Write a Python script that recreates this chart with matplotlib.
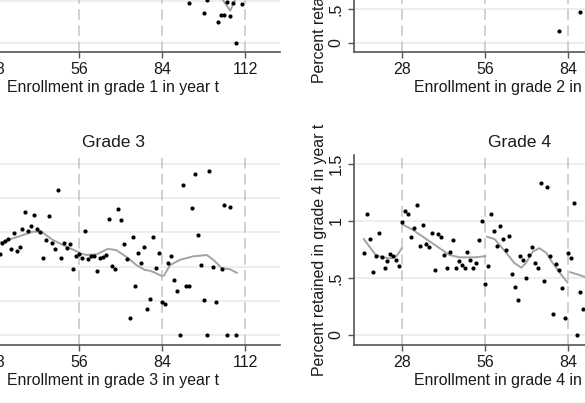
import numpy as np
import matplotlib
matplotlib.use("Agg")
import matplotlib.pyplot as plt

plt.rcParams['font.family'] = ['Liberation Sans', 'DejaVu Sans']

# cutoffs marked with dashed lines
cutoffs = [28, 56, 84, 112]

# Grade 1 (only the lower right corner is visible)
g1_x = [93.1, 99.1, 98.05, 103.0, 103.9, 104.9, 106.0, 107.0, 107.8, 109.05, 111.0]
g1_y = [0.47, 0.51, 0.35, 0.25, 0.33, 0.33, 0.48, 0.32, 0.47, 0.0, 0.46]
g1_fit = [([102.9, 104.5, 107.0, 108.6, 110.3], [0.63, 0.51, 0.38, 0.51, 0.63])]

# Grade 2 (only the lower left corner is visible)
g2_x = [80.9, 87.76]
g2_y = [0.18, 0.46]
g2_fit = []

# Grade 3
g3_x = [29.35, 30.26, 31.04, 32.05, 33.06, 34.07, 35.08, 36.1, 37.0, 38.0,
        39.0, 40.0, 41.05, 42.07, 43.08, 44.09, 45.1, 45.98, 46.99, 48.0,
        49.15, 50.03, 51.17, 52.05, 53.06, 54.07, 55.09, 56.0, 56.99, 58.0,
        59.03, 60.04, 61.06, 62.07, 63.08, 64.09, 65.1, 66.1, 67.1, 68.1,
        69.2, 70.2, 71.1, 72.1, 73.1, 74.1, 75.0, 76.0, 77.0, 77.9,
        79.0, 80.0, 81.0, 82.1, 83.1, 84.0, 85.0, 86.0, 87.0, 88.0,
        89.05, 90.06, 90.97, 91.98, 93.1, 94.0, 95.0, 96.0, 97.05, 98.06,
        99.07, 99.95, 101.1, 102.1, 104.1, 105.0, 106.0, 107.0, 109.05]
g3_y = [1.18, 1.35, 1.38, 1.41, 1.26, 1.49, 1.23, 1.29, 1.55, 1.80,
        1.52, 1.59, 1.75, 1.55, 1.50, 1.12, 1.39, 1.74, 1.35, 1.26,
        2.12, 1.13, 1.34, 1.27, 1.33, 0.96, 1.15, 1.19, 1.13, 1.52,
        1.11, 1.15, 1.15, 0.94, 1.12, 1.14, 1.17, 1.69, 1.01, 0.96,
        1.84, 1.68, 1.33, 1.11, 0.25, 1.44, 0.71, 1.20, 1.06, 1.28,
        0.38, 0.52, 1.44, 0.98, 1.20, 0.48, 0.45, 1.05, 1.15, 0.81,
        0.64, 0.0, 2.20, 0.72, 0.72, 1.86, 2.36, 1.46, 1.03, 0.51,
        0.0, 2.40, 0.99, 0.49, 0.96, 1.90, 0.0, 1.87, 0.0]
g3_fit = [([28.0, 29.35, 35.0, 40.5, 43.4, 47.2, 51.9, 56.0],
           [1.33, 1.35, 1.43, 1.51, 1.51, 1.39, 1.29, 1.21]),
          ([56.0, 58.6, 62.0, 65.8, 68.7, 72.1, 75.5, 78.3, 80.0, 82.2, 84.0],
           [1.20, 1.17, 1.18, 1.26, 1.24, 1.14, 1.02, 0.95, 0.94, 0.90, 0.86]),
          ([84.7, 86.7, 90.1, 94.5, 99.1, 101.3, 104.1, 107.0, 109.2],
           [0.87, 1.02, 1.10, 1.15, 1.17, 1.10, 0.98, 0.96, 0.91])]

# Grade 4
g4_x = [15.06, 16.07, 17.08, 18.09, 19.09, 20.1, 21.1, 22.1, 23.0, 24.0,
        25.0, 26.05, 27.06, 28.0, 28.94, 30.08, 31.09, 32.1, 33.1, 33.98,
        34.99, 36.0, 37.0, 38.0, 39.0, 40.0, 40.94, 41.95, 42.96, 43.96,
        44.97, 45.98, 46.99, 48.0, 49.0, 50.0, 51.0, 51.93, 52.94, 53.81,
        54.96, 55.96, 56.84, 57.85, 58.85, 59.86, 60.87, 61.88, 62.89, 63.9,
        64.9, 65.9, 66.9, 67.83, 68.84, 69.85, 70.86, 71.86, 72.77, 73.78,
        74.89, 75.9, 76.9, 77.9, 78.8, 79.9, 80.9, 81.84, 82.85, 83.86,
        84.87, 85.88, 86.89, 87.76, 88.77]
g4_y = [0.72, 1.06, 0.84, 0.55, 0.69, 0.89, 0.68, 0.59, 0.65, 0.71,
        0.69, 0.66, 0.60, 0.99, 1.09, 1.06, 0.86, 0.94, 1.14, 0.78,
        0.96, 0.80, 0.77, 0.89, 0.57, 0.88, 0.86, 0.70, 0.59, 0.73,
        0.83, 0.59, 0.65, 0.61, 0.59, 0.73, 0.66, 0.59, 0.63, 0.83,
        1.00, 0.45, 0.60, 1.06, 0.91, 0.78, 0.95, 0.84, 0.74, 0.87,
        0.53, 0.42, 0.31, 0.69, 0.66, 0.50, 0.70, 0.77, 0.63, 0.59,
        1.33, 0.47, 1.30, 0.69, 0.18, 0.62, 0.57, 0.41, 0.15, 0.72,
        0.67, 1.16, 0.0, 0.38, 0.23]
g4_fit = [([15.06, 17.08, 19.09, 21.5, 23.8, 26.05, 27.93],
           [0.84, 0.77, 0.70, 0.68, 0.67, 0.69, 0.76]),
          ([28.0, 31.6, 36.1, 40.6, 44.0, 47.3, 50.7, 52.4, 56.0],
           [0.97, 0.92, 0.84, 0.76, 0.70, 0.68, 0.68, 0.68, 0.69]),
          ([56.6, 59.1, 62.4, 65.8, 68.1, 69.7, 71.96, 74.2, 76.5, 78.7, 81.5, 83.7],
           [0.86, 0.84, 0.74, 0.63, 0.59, 0.63, 0.73, 0.76, 0.72, 0.63, 0.53, 0.46]),
          ([84.6, 87.1, 89.3], [0.55, 0.53, 0.51])]

yticks_1 = [0, 0.5, 1, 1.5, 2]
yticks_2 = [0, 0.5, 1, 1.5, 2, 2.5]
yticks_3 = [0, 0.5, 1, 1.5, 2, 2.5]
yticks_4 = [0, 0.5, 1, 1.5]

W, H = 585, 403
fig = plt.figure(figsize=(W / 100, H / 100), dpi=100)

def box(left, top, bottom, width=332.5):
    return [left / W, (H - bottom) / H, width / W, (bottom - top) / H]

def fmt(v):
    s = ('%g' % v)
    if s.startswith('0.'):
        s = s[1:]
    return s

panels = [
    (1, g1_x, g1_y, g1_fit, yticks_1, (-0.114, 2.15), box(-53, -138, 52.3)),
    (2, g2_x, g2_y, g2_fit, yticks_2, (-0.142, 2.68), box(353.5, -138, 52.3)),
    (3, g3_x, g3_y, g3_fit, yticks_3, (-0.146, 2.632), box(-53, 155, 345)),
    (4, g4_x, g4_y, g4_fit, yticks_4, (-0.0876, 1.576), box(353.5, 155, 345)),
]

txt = '#1a1a1a'
for g, xs, ys, fits, yt, yl, pos in panels:
    ax = fig.add_axes(pos)
    ax.set_xlim(11.6, 123.6)
    ax.set_ylim(*yl)
    for sp in ['top', 'right']:
        ax.spines[sp].set_visible(False)
    for sp in ['left', 'bottom']:
        ax.spines[sp].set_color('#555555')
        ax.spines[sp].set_linewidth(1.2)
    for v in yt:
        ax.axhline(v, color='#ededed', lw=1.3, zorder=0)
    for c in cutoffs:
        ax.axvline(c, color='#c4c4c4', lw=1.1, dashes=(7, 3.5), zorder=1)
    for fx, fy in fits:
        ax.plot(fx, fy, color='#a3a3a3', lw=1.4, zorder=2)
    ax.scatter(xs, ys, s=9, color='black', lw=0, zorder=3)
    ax.set_xticks([28, 56, 84, 112])
    ax.set_yticks(yt)
    ax.set_yticklabels([fmt(v) for v in yt])
    ax.tick_params(axis='both', length=4, width=1, color='#555555',
                   labelsize=11.5, labelcolor=txt, pad=3)
    ax.tick_params(axis='y', labelrotation=90)
    for lab in ax.get_yticklabels():
        lab.set_va('center')
    ax.set_xlabel('Enrollment in grade %d in year t' % g, fontsize=11.4,
                  color=txt, labelpad=2)
    ax.set_ylabel('Percent retained in grade %d in year t' % g, fontsize=11.4,
                  color=txt, labelpad=1)
    ax.set_title('Grade %d' % g, fontsize=12.6, color=txt, pad=6)

fig.savefig('out.png', dpi=100)
